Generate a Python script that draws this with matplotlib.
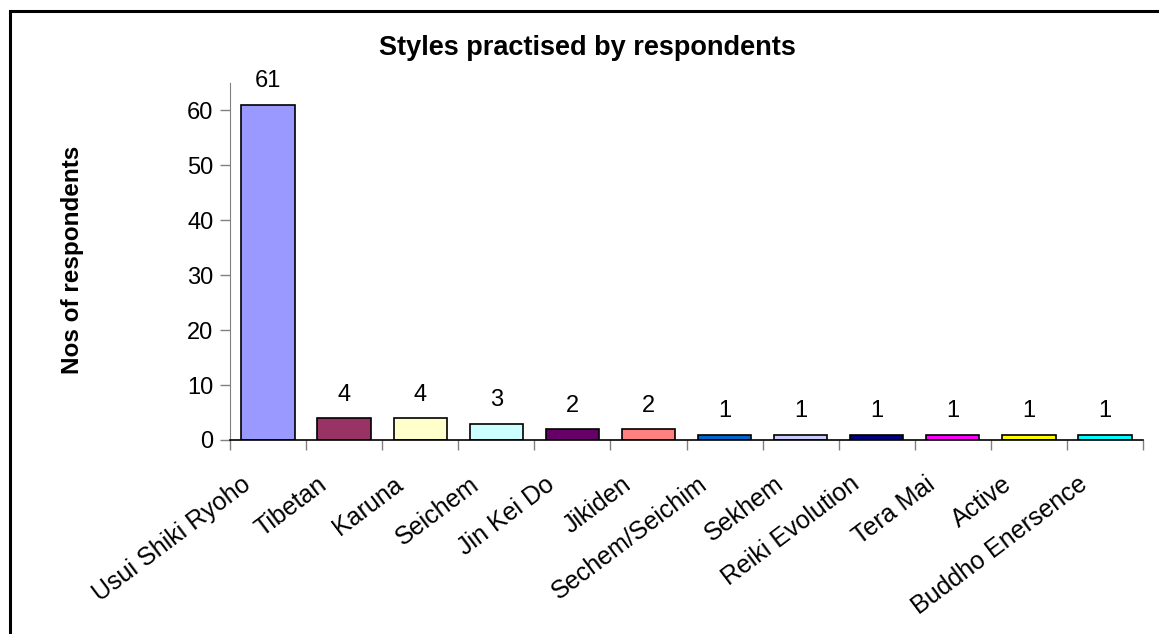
import matplotlib
matplotlib.use("Agg")
import matplotlib.pyplot as plt
from matplotlib.patches import Rectangle
from matplotlib.transforms import ScaledTranslation

# dati
styles = ["Usui Shiki Ryoho", "Tibetan", "Karuna", "Seichem", "Jin Kei Do", "Jikiden",
          "Sechem/Seichim", "Sekhem", "Reiki Evolution", "Tera Mai", "Active", "Buddho Enersence"]
respondents = [61, 4, 4, 3, 2, 2, 1, 1, 1, 1, 1, 1]
bar_colors = ["#9999FF", "#993366", "#FFFFCC", "#CCFFFF", "#660066", "#FF8080",
              "#0066CC", "#CCCCFF", "#000080", "#FF00FF", "#FFFF00", "#00FFFF"]
y_ticks = [0, 10, 20, 30, 40, 50, 60]

plt.rcParams['font.family'] = ['Liberation Sans', 'DejaVu Sans']

W, H = 1159, 634
fig = plt.figure(figsize=(W / 100, H / 100), dpi=100)
ax = fig.add_axes([230 / W, 194 / H, 913 / W, 357 / H])

x = list(range(len(styles)))
ax.bar(x, respondents, width=0.7, color=bar_colors, edgecolor="black", linewidth=1.2)

for xi, v in zip(x, respondents):
    ax.annotate(str(v), (xi, v), xytext=(0, 9), textcoords="offset points",
                ha="center", va="bottom", fontsize=17)

ax.set_xlim(-0.5, len(styles) - 0.5)
ax.set_ylim(0, 65)
ax.set_yticks(y_ticks)
ax.tick_params(axis="y", labelsize=17, length=7, width=1, color="#808080", pad=5)

ax.set_xticks(x)
ax.set_xticklabels(styles, rotation=37, ha="right", va="top", fontsize=18)
ax.tick_params(axis="x", which="major", length=0, pad=23)
shift = ScaledTranslation(-13 / 100, 0, fig.dpi_scale_trans)
for lab in ax.get_xticklabels():
    lab.set_transform(lab.get_transform() + shift)
ax.set_xticks([i - 0.5 for i in range(len(styles) + 1)], minor=True)
ax.tick_params(axis="x", which="minor", length=7, width=1, color="#808080")

for s in ["top", "right"]:
    ax.spines[s].set_visible(False)
ax.spines["left"].set_color("#808080")
ax.spines["bottom"].set_color("black")
ax.spines["bottom"].set_linewidth(1.2)

fig.text(587 / W, 1 - 48 / H, "Styles practised by respondents", ha="center", va="center",
         fontsize=19.5, fontweight="bold")
fig.text(72 / W, 1 - 260 / H, "Nos of respondents", ha="center", va="center",
         rotation=90, fontsize=17.5, fontweight="bold")

# cornice esterna
fig.patches.append(Rectangle((10 / W, -0.1), 1.2, 1.1 - 11 / H, transform=fig.transFigure,
                             fill=False, edgecolor="black", linewidth=2.2))

fig.savefig("out.png", dpi=100)
